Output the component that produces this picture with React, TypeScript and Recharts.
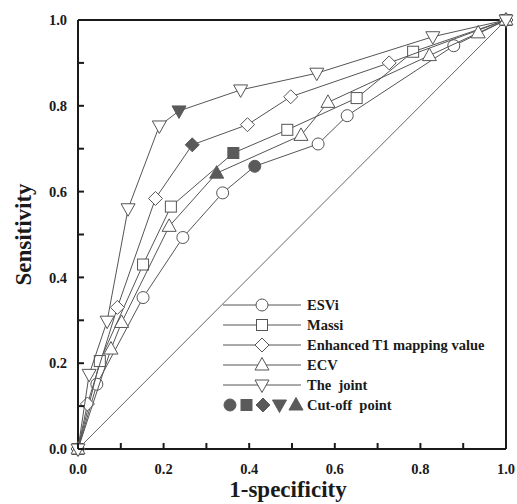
import React from "react";
import {
  ComposedChart,
  Scatter,
  XAxis,
  YAxis,
  ReferenceLine,
  Label,
} from "recharts";

// ROC points: [1-specificity, sensitivity]
const esvi = [
  [0, 0], [0.044, 0.151], [0.152, 0.353], [0.245, 0.493], [0.338, 0.597],
  [0.413, 0.659], [0.561, 0.711], [0.629, 0.777], [0.878, 0.94], [1, 1],
];
const massi = [
  [0, 0], [0.051, 0.205], [0.152, 0.43], [0.217, 0.565], [0.363, 0.69],
  [0.489, 0.744], [0.651, 0.818], [0.783, 0.926], [1, 1],
];
const t1Mapping = [
  [0, 0], [0.022, 0.105], [0.092, 0.33], [0.181, 0.584], [0.267, 0.709],
  [0.396, 0.756], [0.497, 0.821], [0.727, 0.9], [1, 1],
];
const ecv = [
  [0, 0], [0.077, 0.233], [0.102, 0.295], [0.213, 0.519], [0.324, 0.643],
  [0.521, 0.731], [0.584, 0.808], [0.821, 0.917], [0.935, 0.97], [1, 1],
];
const joint = [
  [0, 0], [0.026, 0.174], [0.068, 0.298], [0.117, 0.56], [0.19, 0.753],
  [0.236, 0.788], [0.38, 0.837], [0.558, 0.876], [0.829, 0.961], [1, 1],
];

// index of the cut-off point in each series
const cutoffIndex = { esvi: 5, massi: 4, t1Mapping: 4, ecv: 4, joint: 5 };

const axisTicks = [0, 0.1, 0.2, 0.3, 0.4, 0.5, 0.6, 0.7, 0.8, 0.9, 1];

const LINE = "#555";
const FILL = "#5a5a5a";
const INK = "#1a1a1a";
const FONT = "'Liberation Serif', 'Times New Roman', serif";

type Shape = "circle" | "square" | "diamond" | "up" | "down";

function Marker({ shape, cx, cy, filled }: { shape: Shape; cx: number; cy: number; filled: boolean }) {
  const p = { fill: filled ? FILL : "#fff", stroke: filled ? FILL : LINE, strokeWidth: 1 };
  switch (shape) {
    case "circle":
      return <circle cx={cx} cy={cy} r={6} {...p} />;
    case "square":
      return <rect x={cx - 5.5} y={cy - 5.5} width={11} height={11} {...p} />;
    case "diamond":
      return <polygon points={`${cx},${cy - 7} ${cx + 7},${cy} ${cx},${cy + 7} ${cx - 7},${cy}`} {...p} />;
    case "up":
      return <polygon points={`${cx},${cy - 7.5} ${cx + 7},${cy + 5} ${cx - 7},${cy + 5}`} {...p} />;
    default:
      return <polygon points={`${cx - 7},${cy - 5} ${cx + 7},${cy - 5} ${cx},${cy + 7.5}`} {...p} />;
  }
}

const toPoints = (arr: number[][], cut: number) =>
  arr.map(([x, y], i) => ({ x, y, cutoff: i === cut }));

const series: { key: string; name: string; shape: Shape; data: number[][]; cut: number }[] = [
  { key: "esvi", name: "ESVi", shape: "circle", data: esvi, cut: cutoffIndex.esvi },
  { key: "massi", name: "Massi", shape: "square", data: massi, cut: cutoffIndex.massi },
  { key: "t1", name: "Enhanced T1 mapping value", shape: "diamond", data: t1Mapping, cut: cutoffIndex.t1Mapping },
  { key: "ecv", name: "ECV", shape: "up", data: ecv, cut: cutoffIndex.ecv },
  { key: "joint", name: "The  joint", shape: "down", data: joint, cut: cutoffIndex.joint },
];

const textStyle = { fontFamily: FONT, fontWeight: "bold", fontSize: 14.5, fill: INK };
const fmt = (v: number) => (Math.round(v * 10) % 2 === 0 ? v.toFixed(1) : "");

// ticks point inward, so the tick mark is drawn along with the label
const X_MARGIN = 15;
const Y_MARGIN = 11;
const TICK_LEN = 6;

function XTick(props: any) {
  const { x, y, payload } = props;
  const axisY = y - X_MARGIN;
  return (
    <g>
      <line x1={x} x2={x} y1={axisY} y2={axisY - TICK_LEN} stroke={INK} strokeWidth={2} />
      <text x={x} y={y} dy="0.71em" textAnchor="middle" style={textStyle}>
        {fmt(payload.value)}
      </text>
    </g>
  );
}

function YTick(props: any) {
  const { x, y, payload } = props;
  const axisX = x + Y_MARGIN;
  return (
    <g>
      <line x1={axisX} x2={axisX + TICK_LEN} y1={y} y2={y} stroke={INK} strokeWidth={2} />
      <text x={x} y={y} dy="0.355em" textAnchor="end" style={textStyle}>
        {fmt(payload.value)}
      </text>
    </g>
  );
}

function ChartLegend() {
  const rowY = (i: number) => 15 + i * 20;
  return (
    <svg width={300} height={130} style={{ position: "absolute", left: 210, top: 290 }}>
      {series.map((s, i) => (
        <g key={s.key}>
          <line x1={13} x2={91} y1={rowY(i)} y2={rowY(i)} stroke={LINE} strokeWidth={1} />
          <Marker shape={s.shape} cx={52} cy={rowY(i)} filled={false} />
          <text x={97} y={rowY(i) + 5} style={{ ...textStyle, whiteSpace: "pre" }}>{s.name}</text>
        </g>
      ))}
      {(["circle", "square", "diamond", "down", "up"] as Shape[]).map((sh, i) => (
        <Marker key={sh} shape={sh} cx={20 + i * 16.5} cy={rowY(5)} filled />
      ))}
      <text x={97} y={rowY(5) + 5} style={{ ...textStyle, whiteSpace: "pre" }}>Cut-off  point</text>
    </svg>
  );
}

export default function App() {
  return (
    <div style={{ position: "absolute", left: 0, top: 0, width: 517, height: 504, background: "#fff" }}>
      <ComposedChart width={517} height={504} margin={{ top: 20, right: 11, bottom: 5, left: 0 }}>
        <ReferenceLine y={1} stroke={INK} strokeWidth={2} />
        <ReferenceLine x={1} stroke={INK} strokeWidth={2} />
        <ReferenceLine
          segment={[{ x: 0, y: 0 }, { x: 1, y: 1 }]}
          stroke="#666"
          strokeWidth={1}
        />
        {series.map((s) => (
          <Scatter
            key={s.key}
            name={s.name}
            data={toPoints(s.data, s.cut)}
            line={{ stroke: LINE, strokeWidth: 1 }}
            lineType="joint"
            isAnimationActive={false}
            shape={(props: any) => (
              <Marker shape={s.shape} cx={props.cx} cy={props.cy} filled={props.payload.cutoff} />
            )}
          />
        ))}
        <XAxis
          type="number"
          dataKey="x"
          domain={[0, 1]}
          ticks={axisTicks}
          tickSize={0}
          tickMargin={X_MARGIN}
          height={50}
          axisLine={{ stroke: INK, strokeWidth: 2 }}
          tickLine={false}
          tick={<XTick />}
        >
          <Label
            content={({ viewBox }: any) => (
              <text
                x={viewBox.x + viewBox.width / 2 - 4}
                y={viewBox.y + 48}
                textAnchor="middle"
                style={{ fontFamily: FONT, fontWeight: "bold", fontSize: 23, fill: INK }}
              >
                1-specificity
              </text>
            )}
          />
        </XAxis>
        <YAxis
          type="number"
          dataKey="y"
          domain={[0, 1]}
          ticks={axisTicks}
          tickSize={0}
          tickMargin={Y_MARGIN}
          width={78}
          axisLine={{ stroke: INK, strokeWidth: 2 }}
          tickLine={false}
          tick={<YTick />}
        >
          <Label
            content={({ viewBox }: any) => {
              const cx = 23;
              const cy = viewBox.y + viewBox.height / 2;
              return (
                <text
                  x={cx}
                  y={cy}
                  textAnchor="middle"
                  dominantBaseline="central"
                  transform={`rotate(-90, ${cx}, ${cy})`}
                  style={{ fontFamily: FONT, fontWeight: "bold", fontSize: 23, fill: INK }}
                >
                  Sensitivity
                </text>
              );
            }}
          />
        </YAxis>
      </ComposedChart>
      <ChartLegend />
    </div>
  );
}
